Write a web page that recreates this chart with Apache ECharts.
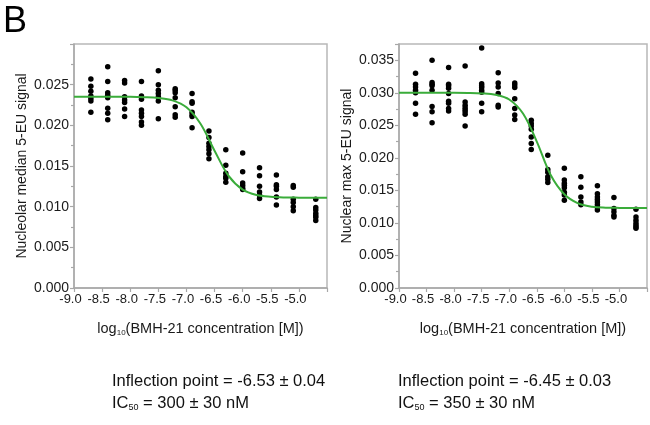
<!DOCTYPE html>
<html><head><meta charset="utf-8">
<script src="https://cdn.jsdelivr.net/npm/echarts@6/dist/echarts.min.js"></script>
<style>html,body{margin:0;padding:0;background:#fff}#c{width:650px;height:425px}</style>
</head><body><div id="c"></div>
<script>
// ---- data ----
const concX = [-8.7, -8.4, -8.1, -7.8, -7.5, -7.2, -6.9, -6.6, -6.3, -6.0, -5.7, -5.4, -5.1, -4.7];
const medianY = [
  [0.0257, 0.0248, 0.0242, 0.0236, 0.0233, 0.0230, 0.0216],
  [0.0272, 0.0254, 0.0240, 0.0237, 0.0234, 0.0221, 0.0215, 0.0207],
  [0.0255, 0.0252, 0.0235, 0.0231, 0.0228, 0.0220, 0.0211],
  [0.0254, 0.0236, 0.0232, 0.0219, 0.0215, 0.0211, 0.0204, 0.0200],
  [0.0267, 0.0250, 0.0243, 0.0239, 0.0235, 0.0230, 0.0208],
  [0.0245, 0.0243, 0.0240, 0.0234, 0.0223, 0.0213, 0.0210],
  [0.0239, 0.0229, 0.0227, 0.0216, 0.0213, 0.0211, 0.0197],
  [0.0193, 0.0185, 0.0178, 0.0174, 0.0170, 0.0165, 0.0159],
  [0.0170, 0.0151, 0.0141, 0.0137, 0.0135, 0.0130],
  [0.0166, 0.0143, 0.0129, 0.0126, 0.0123, 0.0121],
  [0.0148, 0.0138, 0.0125, 0.0118, 0.0114, 0.0110],
  [0.0139, 0.0127, 0.0125, 0.0121, 0.0112, 0.0102],
  [0.0126, 0.0124, 0.0109, 0.0105, 0.0100, 0.0095],
  [0.0109, 0.0099, 0.0096, 0.0092, 0.0089, 0.0087, 0.0083]
];
const maxY = [
  [0.0330, 0.0313, 0.0309, 0.0304, 0.0300, 0.0284, 0.0267],
  [0.0350, 0.0316, 0.0313, 0.0311, 0.0304, 0.0279, 0.0271, 0.0254],
  [0.0339, 0.0313, 0.0311, 0.0307, 0.0299, 0.0287, 0.0284, 0.0276, 0.0272],
  [0.0341, 0.0286, 0.0281, 0.0277, 0.0274, 0.0271, 0.0267, 0.0249],
  [0.0369, 0.0314, 0.0311, 0.0308, 0.0304, 0.0301, 0.0284, 0.0271],
  [0.0331, 0.0315, 0.0309, 0.0299, 0.0281, 0.0278],
  [0.0315, 0.0312, 0.0308, 0.0291, 0.0276, 0.0266, 0.0259],
  [0.0258, 0.0253, 0.0249, 0.0244, 0.0232, 0.0222, 0.0213],
  [0.0204, 0.0182, 0.0178, 0.0171, 0.0167, 0.0162],
  [0.0184, 0.0166, 0.0161, 0.0158, 0.0154, 0.0147, 0.0143, 0.0135],
  [0.0171, 0.0155, 0.0140, 0.0132, 0.0128],
  [0.0157, 0.0145, 0.0140, 0.0136, 0.0132, 0.0128, 0.0124, 0.0120],
  [0.0139, 0.0122, 0.0117, 0.0112, 0.0109],
  [0.0121, 0.0109, 0.0104, 0.0100, 0.0097, 0.0094, 0.0092]
];
// fitted curves
const curveX = [-9, -8.75, -8.5, -8.25, -8, -7.75, -7.5, -7.25, -7, -6.75, -6.5, -6.25, -6, -5.75, -5.5, -5.25, -5, -4.75, -4.5];
const medianFit = [0.0235, 0.0235, 0.0235, 0.0235, 0.0235, 0.02346, 0.02336, 0.02307, 0.02222, 0.02020, 0.01688, 0.01378, 0.01209, 0.01143, 0.01121, 0.01113, 0.01111, 0.0111, 0.0111];
const maxFit = [0.0300, 0.0300, 0.0300, 0.0300, 0.0300, 0.02998, 0.02991, 0.02970, 0.02897, 0.02681, 0.02250, 0.01740, 0.01440, 0.01300, 0.01250, 0.01235, 0.01231, 0.0123, 0.0123];
const yNames = ['Nucleolar median 5-EU signal', 'Nuclear max 5-EU signal'];
const yMax = [0.030, 0.0375];
const yLabelTop = [0.025, 0.035];
const notes = [
  ['Inflection point = -6.53 ± 0.04', '300 ± 30 nM'],
  ['Inflection point = -6.45 ± 0.03', '350 ± 30 nM']
];

// ---- chart ----
const FONT = 'Liberation Sans, Arial, sans-serif';
const TXT = '#1a1a1a';
const AX = '#a8a8a8';
function pairs(xs, ys) { const out = []; xs.forEach((x, i) => ys[i].forEach(y => out.push([x, y]))); return out; }
function line(xs, ys) { return xs.map((x, i) => [x, ys[i]]); }

const grids = [
  { left: 74, top: 44, width: 253, height: 244 },
  { left: 399, top: 44, width: 252, height: 244 }
].map(g => Object.assign(g, { show: true, borderColor: '#b8b8b8', borderWidth: 1.5, backgroundColor: 'transparent' }));

const xAxes = [0, 1].map(i => ({
  type: 'value', gridIndex: i, min: -9, max: -4.5, interval: 0.5,
  axisLine: { show: true, onZero: false, lineStyle: { color: AX, width: 1.5 } },
  axisTick: { show: true, length: 4, lineStyle: { color: AX, width: 1.2 } },
  splitLine: { show: false },
  axisLabel: {
    color: TXT, fontFamily: FONT, fontSize: 13, margin: 5,
    formatter: v => (v > -4.75 ? '' : '{a|' + v.toFixed(1) + '}'),
    rich: { a: { color: TXT, fontFamily: FONT, fontSize: 13, padding: [0, 7, 0, 0] } }
  },
  name: '{t|log}{s|10}{t|(BMH-21 concentration [M])}',
  nameLocation: 'middle', nameGap: 33,
  nameTextStyle: {
    rich: {
      t: { fontFamily: FONT, fontSize: 14.5, color: TXT },
      s: { fontFamily: FONT, fontSize: 8, color: TXT, verticalAlign: 'bottom', padding: [8, 0, 0, 0] }
    }
  }
}));

const yAxes = [0, 1].map(i => ({
  type: 'value', gridIndex: i, min: 0, max: yMax[i], interval: 0.005,
  axisLine: { show: true, onZero: false, lineStyle: { color: AX, width: 1.5 } },
  axisTick: { show: true, length: 4, lineStyle: { color: AX, width: 1.2 } },
  minorTick: { show: true, splitNumber: 2, length: 3, lineStyle: { color: AX, width: 1.2 } },
  splitLine: { show: false }, minorSplitLine: { show: false },
  axisLabel: {
    color: TXT, fontFamily: FONT, fontSize: 14, margin: 5,
    formatter: v => (Math.abs(v * 200 - Math.round(v * 200)) > 1e-6 || v > yLabelTop[i] + 1e-6 ? '' : v.toFixed(3))
  },
  name: yNames[i], nameLocation: 'middle', nameGap: 45, nameRotate: 90,
  nameTextStyle: { fontFamily: FONT, fontSize: 14, color: TXT }
}));

const series = [];
[medianY, maxY].forEach((ys, i) => {
  series.push({
    type: 'scatter', xAxisIndex: i, yAxisIndex: i, data: pairs(concX, ys),
    symbol: 'circle', symbolSize: 5.5, itemStyle: { color: '#000', opacity: 1 }, z: 3
  });
});
[medianFit, maxFit].forEach((ys, i) => {
  series.push({
    type: 'line', xAxisIndex: i, yAxisIndex: i, data: line(curveX, ys),
    smooth: 0.35, showSymbol: false, lineStyle: { color: '#3aac3a', width: 2 }, z: 4
  });
});

const graphic = [
  { type: 'text', left: 3, top: 4, style: { text: 'B', fontFamily: FONT, fontSize: 36, fill: '#000' } }
];
const noteX = [112, 398];
notes.forEach((n, i) => {
  graphic.push({ type: 'text', left: noteX[i], top: 373, style: { text: n[0], fontFamily: FONT, fontSize: 16.5, fill: '#111' } });
  graphic.push({ type: 'text', left: noteX[i], top: 395, style: {
    text: '{t|IC}{s|50}{t| = ' + n[1] + '}',
    rich: {
      t: { fontFamily: FONT, fontSize: 16.5, fill: '#111', color: '#111' },
      s: { fontFamily: FONT, fontSize: 9, fill: '#111', color: '#111', verticalAlign: 'bottom', padding: [9, 0, 0, 0] }
    }
  } });
});

const chart = echarts.init(document.getElementById('c'), null, { renderer: 'canvas' });
chart.setOption({
  animation: false,
  grid: grids, xAxis: xAxes, yAxis: yAxes, series: series, graphic: graphic
});
</script></body></html>
